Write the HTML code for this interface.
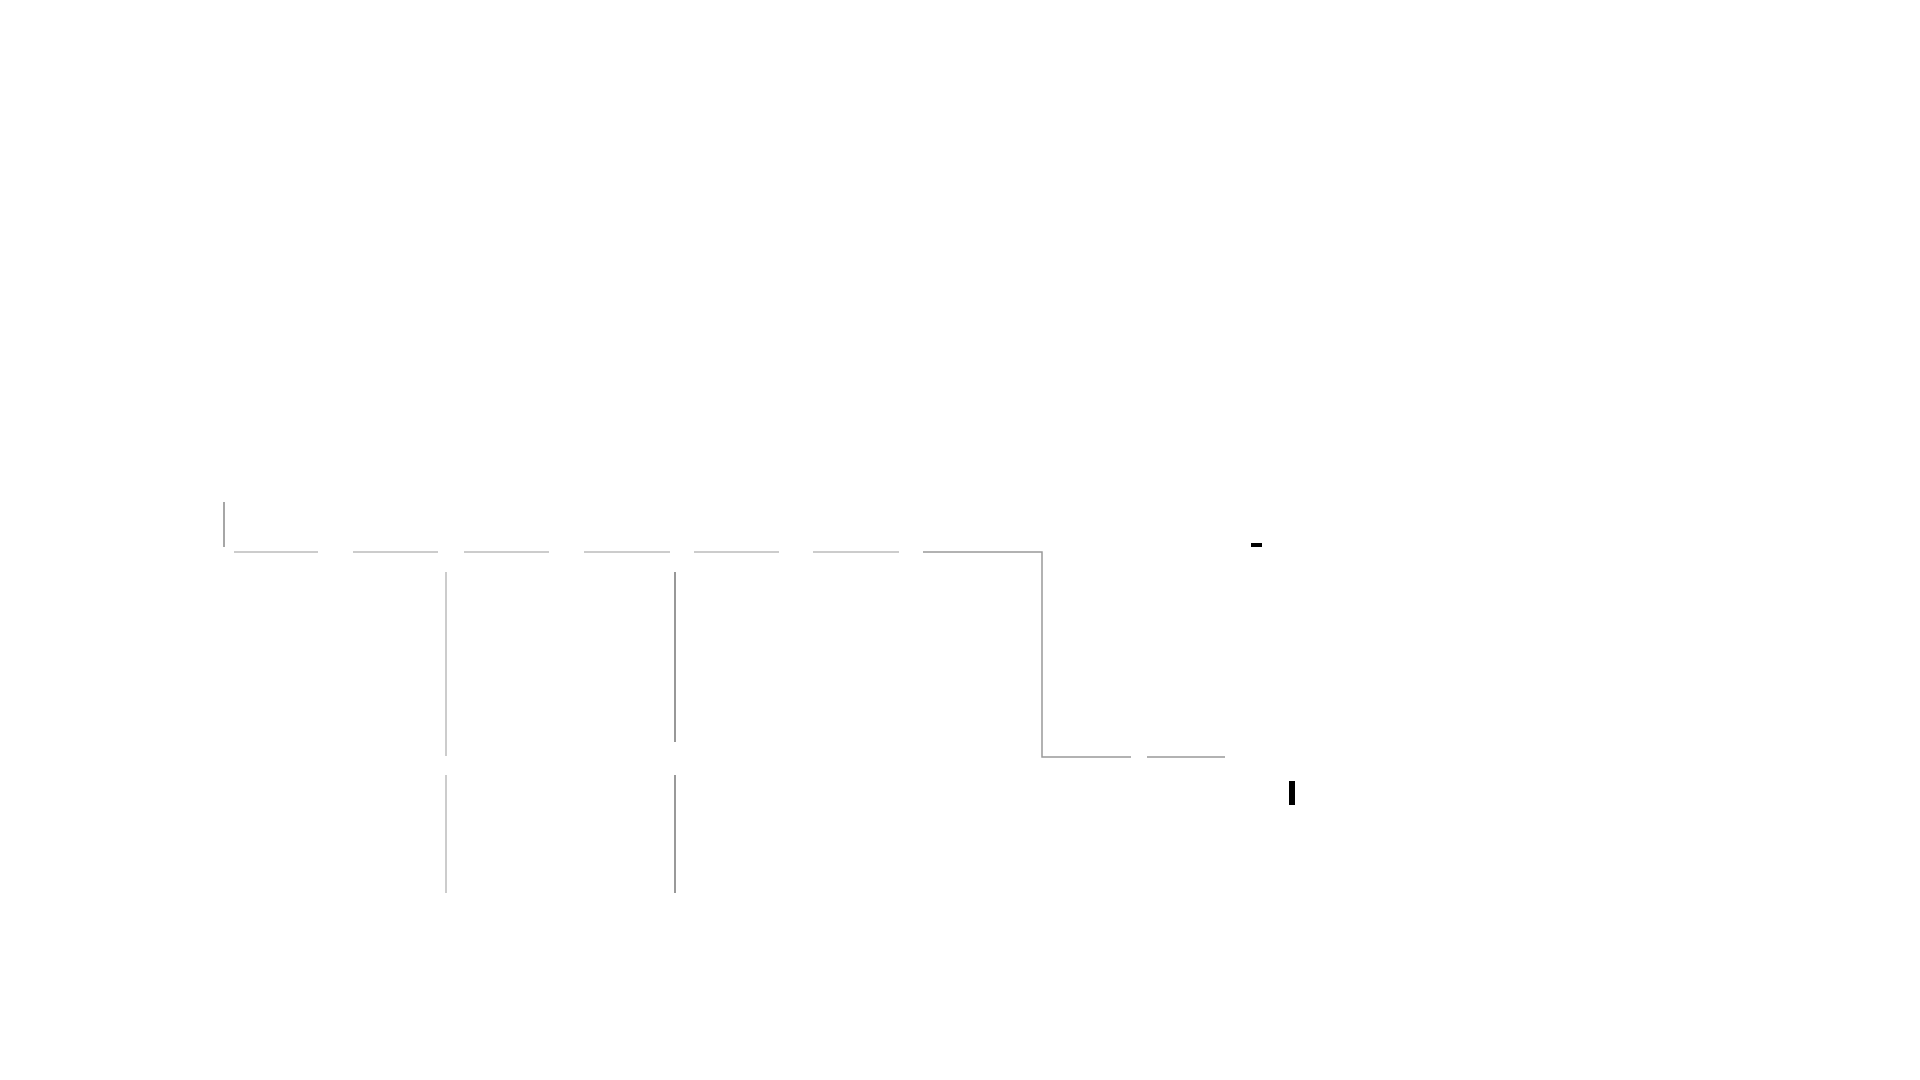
<!DOCTYPE html>
<html><head><meta charset="utf-8"><style>html,body{margin:0;background:#fff;width:1920px;height:1080px;overflow:hidden}</style></head>
<body>
<svg width="1920" height="1080" xmlns="http://www.w3.org/2000/svg">
<g fill="none" stroke-width="1.5">
<line x1="224" y1="502" x2="224" y2="547" stroke="#888"/>
<g stroke="#bbb">
<line x1="234" y1="552" x2="318" y2="552"/>
<line x1="353" y1="552" x2="438" y2="552"/>
<line x1="464" y1="552" x2="549" y2="552"/>
<line x1="584" y1="552" x2="670" y2="552"/>
<line x1="694" y1="552" x2="779" y2="552"/>
<line x1="813" y1="552" x2="899" y2="552"/>
<line x1="446" y1="572" x2="446" y2="756"/>
<line x1="446" y1="775" x2="446" y2="893"/>
</g>
<polyline points="923,552 1042,552 1042,757 1131,757" stroke="#999"/>
<line x1="1147" y1="757" x2="1225" y2="757" stroke="#999"/>
<line x1="675" y1="572" x2="675" y2="742" stroke="#777"/>
<line x1="675" y1="775" x2="675" y2="893" stroke="#777"/>
</g>
<rect x="1251" y="543" width="11" height="4" fill="#000"/>
<rect x="1289" y="781" width="6" height="24" fill="#000"/>
</svg>
</body></html>
